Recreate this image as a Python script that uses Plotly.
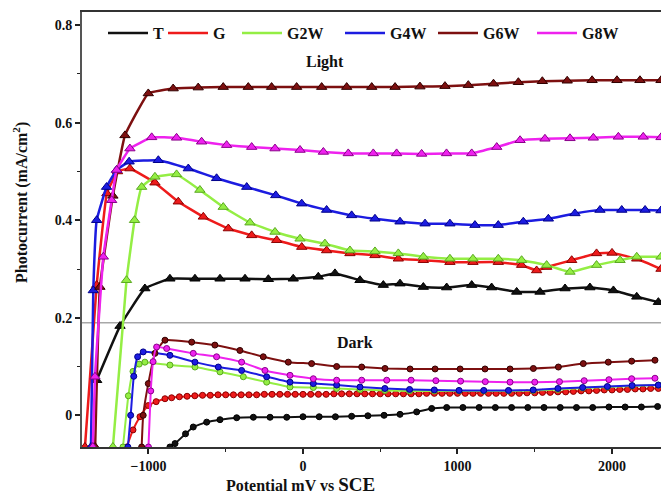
import plotly.graph_objects as go

# ---------------- data ----------------
SERIES = ["T", "G", "G2W", "G4W", "G6W", "G8W"]

LIGHT_T_X = [-1335, -1184, -1023, -861, -699, -537, -375, -224, -63, 99, 207, 369, 520, 628, 779, 930, 1092, 1221, 1383, 1534, 1696, 1857, 2009, 2160, 2300]
LIGHT_T_Y = [0.072, 0.183, 0.26, 0.28, 0.28, 0.28, 0.28, 0.279, 0.28, 0.284, 0.291, 0.277, 0.267, 0.27, 0.263, 0.262, 0.267, 0.262, 0.253, 0.253, 0.26, 0.262, 0.256, 0.243, 0.232]

LIGHT_G_X = [-1411, -1335, -1269, -1200, -1120, -958, -807, -645, -483, -332, -170, -8, 153, 304, 466, 617, 779, 951, 1100, 1264, 1415, 1512, 1577, 1739, 1900, 2000, 2160, 2317]
LIGHT_G_Y = [-0.065, 0.267, 0.455, 0.50, 0.506, 0.477, 0.438, 0.407, 0.383, 0.369, 0.359, 0.345, 0.338, 0.332, 0.328, 0.321, 0.318, 0.314, 0.314, 0.314, 0.308, 0.297, 0.304, 0.318, 0.332, 0.333, 0.321, 0.30]

LIGHT_G2W_X = [-1230, -1142, -1090, -1044, -958, -818, -667, -516, -343, -181, -19, 142, 304, 466, 617, 779, 951, 1100, 1264, 1415, 1577, 1728, 1900, 2052, 2160, 2317]
LIGHT_G2W_Y = [-0.065, 0.277, 0.40, 0.468, 0.489, 0.494, 0.462, 0.427, 0.395, 0.376, 0.362, 0.352, 0.338, 0.336, 0.332, 0.325, 0.321, 0.321, 0.321, 0.318, 0.308, 0.294, 0.308, 0.318, 0.325, 0.325]

LIGHT_G4W_X = [-1372, -1357, -1335, -1271, -1206, -1125, -936, -742, -559, -364, -176, -8, 153, 315, 466, 628, 790, 951, 1113, 1264, 1426, 1588, 1760, 1922, 2063, 2214, 2317]
LIGHT_G4W_Y = [-0.065, 0.256, 0.40, 0.468, 0.503, 0.52, 0.523, 0.506, 0.486, 0.468, 0.451, 0.434, 0.421, 0.41, 0.403, 0.397, 0.393, 0.393, 0.39, 0.39, 0.397, 0.403, 0.414, 0.421, 0.421, 0.421, 0.42]

LIGHT_G6W_X = [-1345, -1314, -1230, -1152, -1001, -840, -678, -516, -354, -203, -41, 121, 283, 445, 596, 757, 919, 1070, 1233, 1394, 1549, 1710, 1871, 2032, 2181, 2317]
LIGHT_G6W_Y = [-0.065, 0.263, 0.45, 0.574, 0.66, 0.67, 0.672, 0.673, 0.673, 0.673, 0.673, 0.673, 0.673, 0.673, 0.673, 0.674, 0.675, 0.677, 0.68, 0.683, 0.685, 0.686, 0.687, 0.687, 0.687, 0.687]

LIGHT_G8W_X = [-1360, -1346, -1292, -1238, -1206, -1120, -979, -818, -656, -494, -332, -181, -19, 132, 293, 455, 606, 768, 929, 1092, 1254, 1405, 1566, 1728, 1879, 2041, 2202, 2317]
LIGHT_G8W_Y = [-0.065, 0.079, 0.325, 0.441, 0.503, 0.547, 0.57, 0.569, 0.561, 0.554, 0.55, 0.547, 0.544, 0.54, 0.537, 0.537, 0.537, 0.536, 0.537, 0.537, 0.55, 0.564, 0.567, 0.568, 0.569, 0.571, 0.571, 0.57]

DARK_T_X = [-861, -828, -760, -710, -623, -537, -429, -321, -213, -105,
            0, 105, 210, 315, 420, 525, 628, 736, 833, 930,
            1035, 1140, 1245, 1350, 1455, 1560, 1665, 1770, 1875, 1980,
            2085, 2190, 2295]
DARK_T_Y = [-0.065, -0.058, -0.038, -0.024, -0.014, -0.009, -0.005, -0.004, -0.004, -0.004,
            -0.003, -0.003, -0.003, -0.002, -0.001, 0.0, 0.002, 0.007, 0.014, 0.016,
            0.016, 0.016, 0.016, 0.016, 0.016, 0.016, 0.016, 0.016, 0.016, 0.017,
            0.017, 0.017, 0.018]

DARK_G_X = [-1141, -1100, -1055, -1001, -950, -893, -850, -800, -750, -700,
            -650, -600, -550, -500, -450, -400, -350, -300, -250, -200,
            -150, -100, -50, 0, 50, 100, 150, 200, 250, 300,
            350, 400, 450, 500, 550, 600, 650, 700, 750, 800,
            850, 900, 950, 1000, 1050, 1100, 1150, 1200, 1250, 1300,
            1350, 1400, 1450, 1500, 1550, 1600, 1650, 1700, 1750, 1800,
            1850, 1900, 1950, 2000, 2050, 2100, 2150, 2200, 2250, 2300]
DARK_G_Y = [-0.065, -0.03, -0.003, 0.02, 0.028, 0.034, 0.036, 0.038, 0.039, 0.04,
            0.041, 0.041, 0.042, 0.042, 0.042, 0.042, 0.042, 0.042, 0.043, 0.043,
            0.043, 0.043, 0.043, 0.043, 0.043, 0.043, 0.043, 0.044, 0.044, 0.044,
            0.044, 0.044, 0.044, 0.044, 0.044, 0.044, 0.044, 0.044, 0.044, 0.045,
            0.045, 0.045, 0.045, 0.045, 0.045, 0.045, 0.045, 0.045, 0.045, 0.045,
            0.045, 0.045, 0.046, 0.046, 0.047, 0.047, 0.048, 0.048, 0.049, 0.05,
            0.05, 0.051, 0.052, 0.052, 0.053, 0.053, 0.054, 0.054, 0.055, 0.055]

DARK_G2W_X = [-1165, -1130, -1100, -1060, -1023, -861, -699, -537, -386, -235, -84, 67, 218, 369, 530, 690, 850, 1010, 1170, 1330, 1490, 1650, 1810, 1970, 2130, 2300]
DARK_G2W_Y = [-0.065, 0.04, 0.09, 0.105, 0.109, 0.103, 0.099, 0.089, 0.079, 0.068, 0.058, 0.057, 0.055, 0.053, 0.051, 0.05, 0.05, 0.05, 0.05, 0.05, 0.051, 0.053, 0.056, 0.058, 0.06, 0.062]

DARK_G4W_X = [-1133, -1115, -1095, -1070, -1034, -861, -699, -548, -397, -235, -84, 67, 218, 369, 530, 690, 850, 1010, 1170, 1330, 1490, 1650, 1810, 1970, 2130, 2300]
DARK_G4W_Y = [-0.065, 0.0, 0.08, 0.12, 0.13, 0.123, 0.109, 0.099, 0.092, 0.079, 0.068, 0.065, 0.062, 0.058, 0.055, 0.053, 0.052, 0.051, 0.051, 0.051, 0.052, 0.055, 0.057, 0.059, 0.061, 0.062]

DARK_G6W_X = [-1044, -1034, -1001, -958, -893, -720, -570, -408, -257, -95, 56, 218, 380, 531, 693, 855, 1017, 1178, 1340, 1491, 1653, 1814, 1976, 2127, 2278]
DARK_G6W_Y = [-0.065, 0.0, 0.065, 0.127, 0.154, 0.150, 0.144, 0.133, 0.12, 0.109, 0.106, 0.10, 0.099, 0.096, 0.095, 0.095, 0.095, 0.095, 0.095, 0.096, 0.099, 0.106, 0.109, 0.111, 0.113]

DARK_G8W_X = [-1000, -985, -970, -947, -882, -710, -559, -397, -246, -84, 67, 218, 380, 542, 700, 860, 1020, 1180, 1340, 1500, 1660, 1820, 1980, 2127, 2278]
DARK_G8W_Y = [-0.065, 0.05, 0.11, 0.14, 0.137, 0.127, 0.12, 0.109, 0.092, 0.082, 0.075, 0.072, 0.072, 0.072, 0.072, 0.071, 0.07, 0.069, 0.068, 0.068, 0.069, 0.071, 0.073, 0.075, 0.076]

X_TICKS = [-1000, 0, 1000, 2000]
X_MINOR = [-500, 500, 1500]
Y_TICKS = [0, 0.2, 0.4, 0.6, 0.8]
Y_TICK_TEXT = ["0", "0.2", "0.4", "0.6", "0.8"]
Y_MINOR = [0.1, 0.3, 0.5, 0.7]
SEPARATOR_Y = 0.19

# ---------------- styles ----------------
COLORS = {"T": "#111111", "G": "#ee1b1b", "G2W": "#94ee44", "G4W": "#1c1ce0",
          "G6W": "#7d1010", "G8W": "#ee22ee"}
EDGES = {"T": "#000000", "G": "#8a0000", "G2W": "#5aa820", "G4W": "#00008a",
         "G6W": "#300000", "G8W": "#8a008a"}
LIGHT = {"T": (LIGHT_T_X, LIGHT_T_Y), "G": (LIGHT_G_X, LIGHT_G_Y),
         "G2W": (LIGHT_G2W_X, LIGHT_G2W_Y), "G4W": (LIGHT_G4W_X, LIGHT_G4W_Y),
         "G6W": (LIGHT_G6W_X, LIGHT_G6W_Y), "G8W": (LIGHT_G8W_X, LIGHT_G8W_Y)}
DARK = {"T": (DARK_T_X, DARK_T_Y), "G": (DARK_G_X, DARK_G_Y),
        "G2W": (DARK_G2W_X, DARK_G2W_Y), "G4W": (DARK_G4W_X, DARK_G4W_Y),
        "G6W": (DARK_G6W_X, DARK_G6W_Y), "G8W": (DARK_G8W_X, DARK_G8W_Y)}

FONT = "Liberation Serif, Times New Roman, serif"
LEGEND_PX = [109, 169, 243, 346, 439, 538]   # left end of each legend line, in pixels

W, H = 661, 502
ML, MR, MT, MB = 82, 0, 12, 55
PW = W - ML - MR
PH = H - MT - MB

fig = go.Figure()

for name in SERIES:
    x, y = DARK[name]
    fig.add_trace(go.Scatter(
        x=x, y=y, mode="lines+markers", showlegend=False,
        line=dict(color=COLORS[name], width=2, shape="spline", smoothing=0.4),
        marker=dict(symbol="circle", size=6, color=COLORS[name],
                    line=dict(color=EDGES[name], width=1)),
    ))

for name in SERIES:
    x, y = LIGHT[name]
    fig.add_trace(go.Scatter(
        x=x, y=y, mode="lines+markers", showlegend=False,
        line=dict(color=COLORS[name], width=2.5, shape="spline", smoothing=0.3),
        marker=dict(symbol="triangle-up", size=9, color=COLORS[name],
                    line=dict(color=EDGES[name], width=1)),
    ))

legend_layouts = {}
for i, name in enumerate(SERIES):
    key = "legend" if i == 0 else f"legend{i + 1}"
    fig.add_trace(go.Scatter(
        x=[None], y=[None], mode="lines", name=name, legend=key,
        line=dict(color=COLORS[name], width=2.5),
    ))
    legend_layouts[key] = dict(
        x=(LEGEND_PX[i] - 6 - ML) / PW, xanchor="left",
        y=1 - (33 - MT) / PH, yanchor="middle",
        bgcolor="rgba(0,0,0,0)", borderwidth=0,
        font=dict(family=FONT, size=16, color="#111", weight="bold"),
        itemwidth=40, tracegroupgap=0,
    )

fig.update_layout(
    width=W, height=H,
    margin=dict(l=ML, r=MR, t=MT, b=MB, pad=0),
    paper_bgcolor="white", plot_bgcolor="white",
    showlegend=True,
    font=dict(family=FONT, size=14, color="#111"),
    xaxis=dict(
        range=[-1430, 2317], tickmode="array", tickvals=X_TICKS,
        ticks="outside", ticklen=5, tickwidth=1.5, tickcolor="#222",
        minor=dict(tickmode="array", tickvals=X_MINOR, ticks="outside", ticklen=3, tickwidth=1.2, tickcolor="#222"),
        showline=True, linecolor="#333", linewidth=2, mirror=True,
        showgrid=False, zeroline=False,
        tickfont=dict(family=FONT, size=14, color="#111", weight="bold"),
    ),
    yaxis=dict(
        range=[-0.065, 0.827], tickmode="array", tickvals=Y_TICKS, ticktext=Y_TICK_TEXT,
        ticks="outside", ticklen=5, tickwidth=1.5, tickcolor="#222",
        minor=dict(tickmode="array", tickvals=Y_MINOR, ticks="outside", ticklen=3, tickwidth=1.2, tickcolor="#222"),
        showline=True, linecolor="#555", linewidth=2,
        showgrid=False, zeroline=False,
        tickfont=dict(family=FONT, size=14, color="#111", weight="bold"),
    ),
    shapes=[dict(type="line", xref="paper", x0=0, x1=1, yref="y", y0=SEPARATOR_Y, y1=SEPARATOR_Y,
                 line=dict(color="#a8a8a8", width=1.5), layer="below")],
    annotations=[
        dict(text="Light", x=142, y=0.724, xref="x", yref="y", showarrow=False,
             font=dict(family=FONT, size=16, color="#111", weight="bold")),
        dict(text="Dark", x=337, y=0.15, xref="x", yref="y", showarrow=False,
             font=dict(family=FONT, size=16, color="#111", weight="bold")),
        dict(text="Photocurrent (mA/cm<sup>2</sup>)", textangle=-90,
             x=(20 - ML) / PW, y=1 - (203 - MT) / PH, xref="paper", yref="paper",
             xanchor="center", yanchor="middle",
             showarrow=False, font=dict(family=FONT, size=16, color="#111", weight="bold")),
        dict(text="Potential mV vs <span style='font-size:19px'>SCE</span>",
             x=(300 - ML) / PW, y=1 - (484 - MT) / PH, xref="paper", yref="paper",
             xanchor="center", yanchor="middle",
             showarrow=False, font=dict(family=FONT, size=16, color="#111", weight="bold")),
    ],
    **legend_layouts,
)

fig.write_html("out.html")
